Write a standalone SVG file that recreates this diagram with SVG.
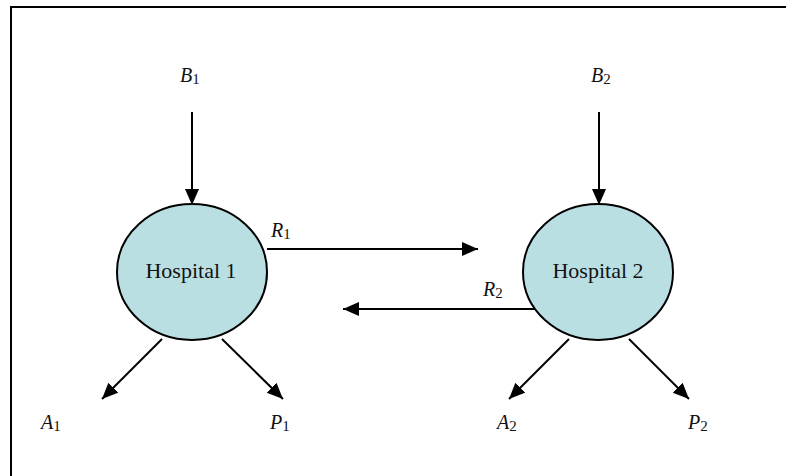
<svg xmlns="http://www.w3.org/2000/svg" width="786" height="476" viewBox="0 0 786 476">
  <style>
    .node { fill: #badfe3; stroke: #000; stroke-width: 2; }
    .lbl { font-family: "Liberation Serif", "Times New Roman", serif; font-size: 22px; fill: #111; }
    .var { font-family: "Liberation Serif", "Times New Roman", serif; font-size: 20px; font-style: italic; fill: #111; }
    .sub { font-size: 15px; font-style: normal; }
    .edge { stroke: #000; stroke-width: 2; fill: none; marker-end: url(#ah); }
  </style>
  <defs>
    <marker id="ah" markerUnits="userSpaceOnUse" markerWidth="18" markerHeight="16" refX="16" refY="7" orient="auto">
      <path d="M0,0 L16,7 L0,14 Z" fill="#000"/>
    </marker>
  </defs>
  <rect width="786" height="476" fill="#fff"/>
  <path d="M11,476 L11,7 L786,7" fill="none" stroke="#000" stroke-width="2"/>

  <g id="connectors">
    <line class="edge" x1="192" y1="112" x2="192" y2="205"/>
    <line class="edge" x1="599" y1="112" x2="599" y2="205"/>
    <line class="edge" x1="267" y1="249" x2="478" y2="249"/>
    <line class="edge" x1="540" y1="309" x2="343" y2="309"/>
    <line class="edge" x1="162" y1="339" x2="102" y2="399"/>
    <line class="edge" x1="222" y1="339" x2="283" y2="399"/>
    <line class="edge" x1="569" y1="339" x2="509" y2="399"/>
    <line class="edge" x1="629" y1="339" x2="689" y2="399"/>
  </g>

  <g id="hospital1">
    <ellipse class="node" cx="192" cy="272" rx="75" ry="68"/>
    <text class="lbl" x="191" y="278" text-anchor="middle">Hospital 1</text>
  </g>
  <g id="hospital2">
    <ellipse class="node" cx="598" cy="272" rx="75" ry="68"/>
    <text class="lbl" x="598" y="278" text-anchor="middle">Hospital 2</text>
  </g>

  <g id="labels">
    <text class="var" x="180" y="82">B<tspan class="sub" dy="2">1</tspan></text>
    <text class="var" x="591" y="82">B<tspan class="sub" dy="2">2</tspan></text>
    <text class="var" x="271" y="237">R<tspan class="sub" dy="2">1</tspan></text>
    <text class="var" x="483" y="296">R<tspan class="sub" dy="2">2</tspan></text>
    <text class="var" x="41" y="429">A<tspan class="sub" dy="2">1</tspan></text>
    <text class="var" x="270" y="429">P<tspan class="sub" dy="2">1</tspan></text>
    <text class="var" x="497" y="429">A<tspan class="sub" dy="2">2</tspan></text>
    <text class="var" x="688" y="429">P<tspan class="sub" dy="2">2</tspan></text>
  </g>
</svg>
